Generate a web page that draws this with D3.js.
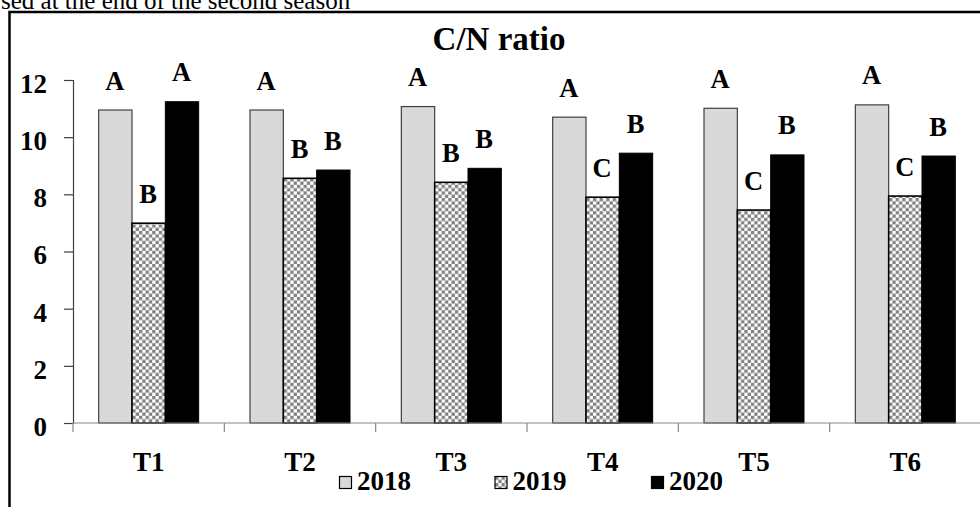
<!DOCTYPE html>
<html><head><meta charset="utf-8">
<script src="https://cdn.jsdelivr.net/npm/d3@7"></script>
<style>html,body{margin:0;padding:0;background:#fff;overflow:hidden}</style>
</head><body>
<svg id="c" width="980" height="507"></svg>
<script>
const categories = ["T1","T2","T3","T4","T5","T6"];
const years = ["2018","2019","2020"];
const values2018 = [10.95, 10.95, 11.07, 10.70, 11.01, 11.13];
const values2019 = [6.99, 8.56, 8.42, 7.90, 7.45, 7.94];
const values2020 = [11.24, 8.85, 8.91, 9.44, 9.38, 9.34];
const letters2018 = ["A","A","A","A","A","A"];
const letters2019 = ["B","B","B","C","C","C"];
const letters2020 = ["A","B","B","B","B","B"];
const yTicks = [0,2,4,6,8,10,12];
const titleText = "C/N ratio";
const captionText = "sed at the end of the second season";

const seriesVals = {"2018": values2018, "2019": values2019, "2020": values2020};
const seriesLetters = {"2018": letters2018, "2019": letters2019, "2020": letters2020};

const svg = d3.select("#c");
const FONT = "'Liberation Serif','Times New Roman',serif";

const defs = svg.append("defs");
const pat = defs.append("pattern").attr("id","chk").attr("patternUnits","userSpaceOnUse")
  .attr("width",6.6).attr("height",6.6);
pat.append("rect").attr("width",6.6).attr("height",6.6).attr("fill","#fff");
pat.append("rect").attr("width",3.3).attr("height",3.3).attr("fill","#808080");
pat.append("rect").attr("x",3.3).attr("y",3.3).attr("width",3.3).attr("height",3.3).attr("fill","#808080");

// caption (cut off at top, as in the reference)
svg.append("text").attr("x",1).attr("y",8.5).attr("font-family",FONT).attr("font-size",25)
  .attr("fill","#000").text(captionText);

// frame
svg.append("rect").attr("x",9.5).attr("y",12).attr("width",1000).attr("height",600)
  .attr("fill","none").attr("stroke","#000").attr("stroke-width",2.5);

const x0 = d3.scaleBand().domain(categories).range([73, 981]).paddingInner(0).paddingOuter(0);
const x1 = d3.scaleBand().domain(years).range([0, x0.bandwidth()]).paddingInner(0).paddingOuter(0.77);
const y = d3.scaleLinear().domain([0,12]).range([423, 80]);

const fills = {"2018":"#d9d9d9","2019":"url(#chk)","2020":"#000"};
const strokes = {"2018":"#404040","2019":"#000","2020":"#000"};
const sw = {"2018":1.2,"2019":1.6,"2020":1};

// title
svg.append("text").attr("x",499).attr("y",50).attr("text-anchor","middle")
  .attr("font-family",FONT).attr("font-weight","bold").attr("font-size",33).text(titleText);

// y axis
const yAxis = d3.axisLeft(y).tickValues(yTicks).tickSize(9).tickPadding(17).tickFormat(d3.format("d"));
const gy = svg.append("g").attr("transform","translate(73,0)").call(yAxis);
gy.select(".domain").attr("stroke","#404040").attr("stroke-width",1.2);
gy.selectAll(".tick line").attr("stroke","#404040").attr("stroke-width",1.2);
gy.selectAll(".tick text").attr("font-family",FONT).attr("font-weight","bold").attr("font-size",27)
  .attr("fill","#000").attr("dy","0.46em");

// bars
const groups = svg.append("g").selectAll("g").data(categories).join("g")
  .attr("transform", d => `translate(${x0(d)},0)`);
years.forEach(yr => {
  groups.append("rect")
    .attr("x", x1(yr)).attr("width", x1.bandwidth())
    .attr("y", (d,i) => y(seriesVals[yr][i]))
    .attr("height", (d,i) => y(0) - y(seriesVals[yr][i]))
    .attr("fill", fills[yr]).attr("stroke", strokes[yr]).attr("stroke-width", sw[yr]);
  groups.append("text")
    .attr("x", x1(yr) + x1.bandwidth()/2 - 0.5)
    .attr("y", (d,i) => y(seriesVals[yr][i]) - 20.5)
    .attr("text-anchor","middle").attr("font-family",FONT).attr("font-weight","bold").attr("font-size",26.5)
    .text((d,i) => seriesLetters[yr][i]);
});

// x axis
const xAxisLine = svg.append("g");
xAxisLine.append("line").attr("x1",73).attr("x2",981).attr("y1",y(0)).attr("y2",y(0))
  .attr("stroke","#888").attr("stroke-width",1.2);
const bounds = categories.map(c => x0(c));
xAxisLine.selectAll("line.tk").data(bounds).join("line").attr("class","tk")
  .attr("x1",d=>d).attr("x2",d=>d).attr("y1",y(0)).attr("y2",y(0)+9)
  .attr("stroke","#888").attr("stroke-width",1.2);
svg.append("g").selectAll("text").data(categories).join("text")
  .attr("x", d => x0(d) + x0.bandwidth()/2).attr("y", 471)
  .attr("text-anchor","middle").attr("font-family",FONT).attr("font-weight","bold").attr("font-size",27)
  .text(d => d);

// legend
const legX = [339.5, 495, 651.5];
const lg = svg.append("g").selectAll("g").data(years).join("g")
  .attr("transform",(d,i)=>`translate(${legX[i]},476.5)`);
lg.append("rect").attr("width",12).attr("height",12)
  .attr("fill", d => fills[d]).attr("stroke","#000").attr("stroke-width",1.2);
lg.append("text").attr("x",17.5).attr("y",13.5).attr("font-family",FONT).attr("font-weight","bold")
  .attr("font-size",27).text(d => d);
</script>
</body></html>
